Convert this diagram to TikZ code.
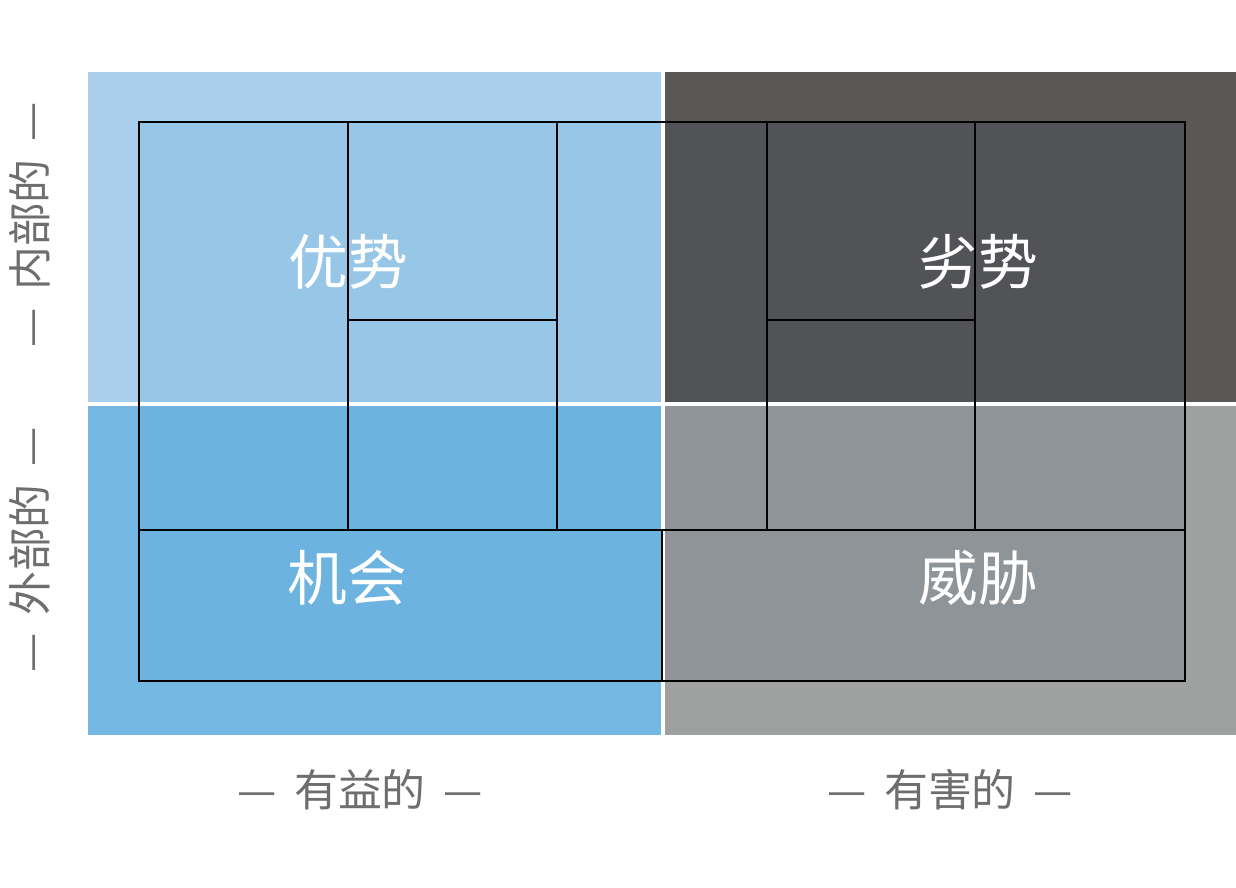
\documentclass[tikz,border=0pt]{standalone}
\usepackage{fontspec}
\newfontfamily\cjk{Noto Sans CJK SC}

\definecolor{helpIn}{HTML}{A9CFEC}
\definecolor{helpEx}{HTML}{74B7E3}
\definecolor{harmIn}{HTML}{5A5857}
\definecolor{harmEx}{HTML}{9FA0A0}
\definecolor{coreHelpIn}{HTML}{97C6E7}
\definecolor{coreHelpEx}{HTML}{6CB3E0}
\definecolor{coreHarmIn}{HTML}{525357}
\definecolor{coreHarmEx}{HTML}{8E9498}
\definecolor{axisgray}{HTML}{6E6E6E}

\tikzset{
    quad/.style={white, font=\cjk\fontsize{34}{40}\selectfont},
    axis/.style={axisgray, font=\cjk\fontsize{25}{30}\selectfont},
    grid/.style={black, line width=0.7pt},
}

\begin{document}
\begin{tikzpicture}[x=0.02cm, y=-0.02cm]
    \useasboundingbox (0,0) rectangle (1236,888);

    % outer quadrants
    \fill[helpIn] (88,72) rectangle (662,404);
    \fill[helpEx] (88,404) rectangle (662,735);
    \fill[harmIn] (662,72) rectangle (1236,404);
    \fill[harmEx] (662,404) rectangle (1236,735);

    % inner field
    \fill[coreHelpIn] (139,122) rectangle (662,404);
    \fill[coreHelpEx] (139,404) rectangle (662,681);
    \fill[coreHarmIn] (662,122) rectangle (1185,404);
    \fill[coreHarmEx] (662,404) rectangle (1185,681);

    % white gaps
    \draw[white, line width=2.3pt] (663,72) -- (663,735);
    \draw[white, line width=2.3pt] (88,404) -- (1236,404);

    % grid
    \draw[grid] (139,122) rectangle (1185,681);
    \draw[grid] (139,530) -- (1185,530);
    \draw[grid] (348,122) -- (348,530);
    \draw[grid] (557,122) -- (557,530);
    \draw[grid] (767,122) -- (767,530);
    \draw[grid] (975,122) -- (975,530);
    \draw[grid] (348,320) -- (557,320);
    \draw[grid] (767,320) -- (975,320);
    \draw[grid] (662,530) -- (662,681);
    \draw[black, line width=1.2pt] (348,681) -- (975,681);
    \draw[black, line width=1.2pt] (557,320) -- (557,402);
    \draw[black, line width=1.2pt] (975,320) -- (975,402);

    \draw
    (348, 262) node[quad](S){优势}
    (978, 262) node[quad](W){劣势}
    (347, 578) node[quad](O){机会}
    (978, 578) node[quad](T){威胁}
    (360, 790) node[axis](help){—\, 有益的 \,—}
    (950, 790) node[axis](harm){—\, 有害的 \,—}
    (30, 225) node[axis, rotate=90](inner){—\, 内部的 \,—}
    (30, 550) node[axis, rotate=90](outer){—\, 外部的 \,—};

\end{tikzpicture}
\end{document}
